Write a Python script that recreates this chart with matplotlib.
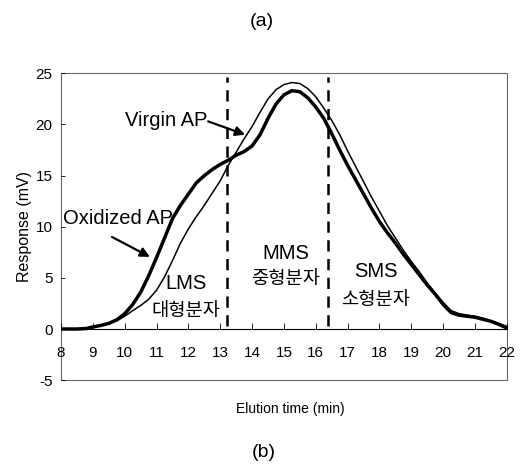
import matplotlib
matplotlib.use("Agg")
import matplotlib.pyplot as plt
from matplotlib.patches import Rectangle

plt.rcParams['font.family'] = ['Liberation Sans', 'Noto Sans CJK KR', 'DejaVu Sans']

# elution time (min) and response (mV)
time_virgin = [8.0, 8.5, 8.8, 9.0, 9.25, 9.5, 9.75, 10.0, 10.25, 10.5, 10.75, 11.0, 11.25, 11.5,
               11.75, 12.0, 12.25, 12.5, 12.75, 13.0, 13.25, 13.5, 13.75, 14.0, 14.25, 14.5,
               14.75, 15.0, 15.25, 15.5, 15.75, 16.0, 16.25, 16.5, 16.75, 17.0, 17.25, 17.5,
               17.75, 18.0, 18.25, 18.5, 18.75, 19.0, 19.25, 19.5, 19.75, 20.0, 20.25, 20.5,
               20.75, 21.0, 21.25, 21.5, 21.75, 22.0]
resp_virgin = [0.0, 0.0, 0.05, 0.2, 0.35, 0.55, 0.8, 1.25, 1.8, 2.3, 2.9, 3.8, 5.1, 6.7,
               8.4, 9.8, 11.0, 12.1, 13.3, 14.5, 16.0, 17.3, 18.6, 19.8, 21.2, 22.5,
               23.4, 23.9, 24.1, 24.0, 23.5, 22.7, 21.6, 20.4, 19.0, 17.4, 15.9, 14.4,
               12.9, 11.5, 10.1, 8.9, 7.7, 6.6, 5.6, 4.5, 3.5, 2.6, 1.8, 1.5,
               1.35, 1.25, 1.05, 0.8, 0.55, 0.25]

time_oxid = [8.0, 8.5, 8.8, 9.0, 9.25, 9.5, 9.75, 10.0, 10.25, 10.5, 10.75, 11.0, 11.25, 11.5,
             11.75, 12.0, 12.25, 12.5, 12.75, 13.0, 13.25, 13.5, 13.75, 14.0, 14.25, 14.5,
             14.75, 15.0, 15.25, 15.5, 15.75, 16.0, 16.25, 16.5, 16.75, 17.0, 17.25, 17.5,
             17.75, 18.0, 18.25, 18.5, 18.75, 19.0, 19.25, 19.5, 19.75, 20.0, 20.25, 20.5,
             20.75, 21.0, 21.25, 21.5, 21.75, 22.0]
resp_oxid = [0.0, 0.0, 0.05, 0.2, 0.35, 0.55, 0.9, 1.5, 2.4, 3.6, 5.2, 7.0, 8.9, 10.8,
             12.1, 13.2, 14.3, 15.0, 15.6, 16.1, 16.5, 17.0, 17.35, 17.9, 19.0, 20.6,
             22.0, 22.9, 23.3, 23.2, 22.6, 21.7, 20.6, 19.1, 17.5, 16.0, 14.6, 13.2,
             11.8, 10.5, 9.4, 8.4, 7.3, 6.3, 5.3, 4.3, 3.4, 2.4, 1.6, 1.35,
             1.25, 1.15, 0.95, 0.75, 0.45, 0.1]

x_ticks = list(range(8, 23))
y_ticks = [-5, 0, 5, 10, 15, 20, 25]
boundaries = [13.2, 16.37]

fig = plt.figure(figsize=(5.22, 4.67), dpi=100)
ax = fig.add_axes([0.117, 0.186, 0.854, 0.657])

ax.plot(time_virgin, resp_virgin, color='black', lw=1.1)
ax.plot(time_oxid, resp_oxid, color='black', lw=2.5)

for b in boundaries:
    ax.plot([b, b], [0.3, 24.6], color='black', lw=1.8, linestyle=(0, (4.5, 3)))

ax.set_xlim(8, 22)
ax.set_ylim(-5, 25)

# x axis sits on y = 0, frame drawn around the whole plot
for s in ['top', 'right', 'left']:
    ax.spines[s].set_visible(False)
ax.spines['bottom'].set_position(('data', 0))
ax.spines['bottom'].set_linewidth(0.8)
ax.add_patch(Rectangle((0, 0), 1, 1, transform=ax.transAxes, fill=False,
                       ec='#666666', lw=0.8, clip_on=False))

ax.set_xticks(x_ticks)
ax.set_yticks(y_ticks)
ax.set_yticklabels(['-5', '0', '5', '10', '15', '20', '25'])
ax.tick_params(axis='x', direction='in', length=4, width=0.6, labelsize=11, pad=12)
ax.tick_params(axis='y', direction='in', length=3, width=0.6, labelsize=11, pad=6)

ax.set_ylabel("Response (mV)", fontsize=11.5)
ax.yaxis.set_label_coords(-0.066, 0.5)
fig.text(0.556, 0.124, "Elution time (min)", ha='center', va='center', fontsize=10)

ax.text(12.6, 20.4, "Virgin AP", ha='right', va='center', fontsize=14.5)
ax.annotate("", xy=(13.78, 19.0), xytext=(12.62, 20.3),
            arrowprops=dict(arrowstyle='-|>', color='black', lw=1.6, mutation_scale=14,
                            shrinkA=0, shrinkB=0))
ax.text(8.05, 10.8, "Oxidized AP", ha='left', va='center', fontsize=14.5)
ax.annotate("", xy=(10.79, 7.05), xytext=(9.6, 9.0),
            arrowprops=dict(arrowstyle='-|>', color='black', lw=1.6, mutation_scale=14,
                            shrinkA=0, shrinkB=0))

ax.text(11.93, 4.45, "LMS", ha='center', va='center', fontsize=14.5)
ax.text(11.92, 1.7, "대형분자", ha='center', va='center', fontsize=13.5)
ax.text(15.05, 7.4, "MMS", ha='center', va='center', fontsize=14.5)
ax.text(15.05, 4.8, "중형분자", ha='center', va='center', fontsize=13.5)
ax.text(17.9, 5.6, "SMS", ha='center', va='center', fontsize=14.5)
ax.text(17.89, 2.75, "소형분자", ha='center', va='center', fontsize=13.5)

fig.text(0.502, 0.955, "(a)", ha='center', va='center', fontsize=14)
fig.text(0.505, 0.03, "(b)", ha='center', va='center', fontsize=14)

fig.savefig("out.png", dpi=100)
